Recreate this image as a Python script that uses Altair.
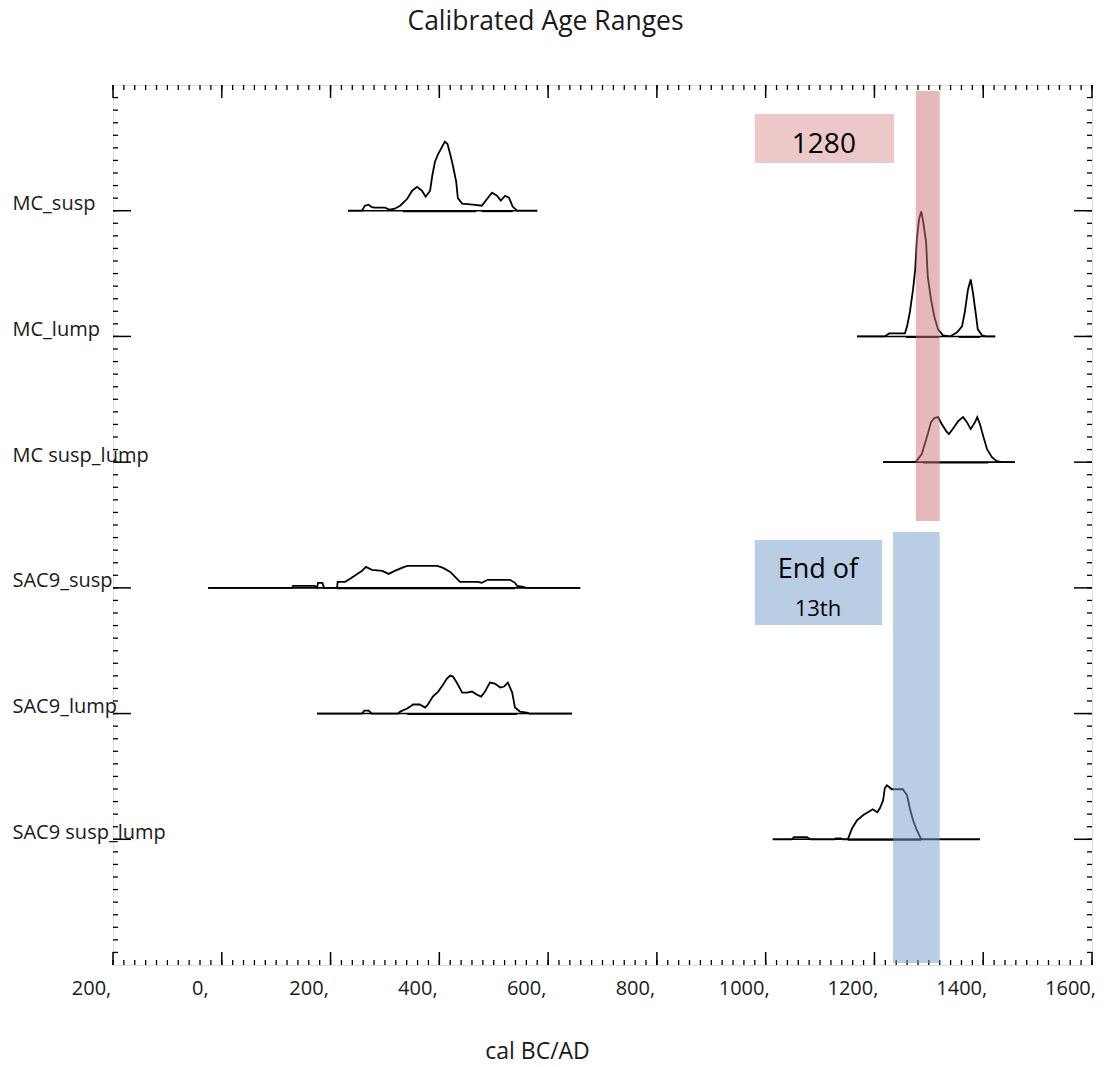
import altair as alt
import pandas as pd

SAMPLES = ["MC_susp", "MC_lump", "MC susp_lump", "SAC9_susp", "SAC9_lump", "SAC9 susp_lump"]
ROWS = [1, 2, 3, 4, 5, 6]

MC_SUSP_YEARS = [232, 258, 263, 270, 275, 280, 300, 309, 318, 328, 341, 350, 359, 368, 375, 383, 387, 392, 398, 404, 410, 415, 420, 425, 431, 434, 442, 462, 478, 488, 497, 506, 513, 521, 528, 535, 543, 580]
MC_SUSP_DENS = [0, 0, 0.04, 0.048, 0.03, 0.024, 0.024, 0.008, 0.016, 0.04, 0.095, 0.159, 0.19, 0.159, 0.111, 0.159, 0.278, 0.39, 0.453, 0.5, 0.549, 0.53, 0.45, 0.358, 0.231, 0.1, 0.056, 0.048, 0.04, 0.095, 0.143, 0.119, 0.08, 0.119, 0.103, 0.032, 0, 0]

MC_LUMP_YEARS = [1168, 1219, 1227, 1256, 1260, 1265, 1271, 1275, 1278, 1282, 1286, 1289, 1295, 1298, 1304, 1310, 1317, 1326, 1339, 1352, 1361, 1366, 1372, 1377, 1381, 1387, 1390, 1398, 1405, 1422]
MC_LUMP_DENS = [0, 0, 0.024, 0.024, 0.08, 0.19, 0.374, 0.533, 0.772, 0.93, 0.994, 0.93, 0.748, 0.477, 0.294, 0.159, 0.056, 0.008, 0, 0.032, 0.08, 0.19, 0.374, 0.453, 0.35, 0.159, 0.056, 0.008, 0, 0]

MC_SL_YEARS = [1216, 1276, 1287, 1297, 1304, 1310, 1317, 1324, 1332, 1337, 1344, 1354, 1363, 1370, 1377, 1385, 1389, 1394, 1400, 1407, 1416, 1425, 1435, 1458]
MC_SL_DENS = [0, 0, 0.064, 0.207, 0.318, 0.35, 0.358, 0.302, 0.247, 0.223, 0.263, 0.326, 0.358, 0.318, 0.263, 0.318, 0.358, 0.302, 0.207, 0.103, 0.04, 0.008, 0, 0]

SAC9_SUSP_YEARS = [-25, 129, 131, 171, 175, 177, 185, 188, 212, 213, 227, 236, 249, 258, 265, 276, 295, 307, 318, 331, 341, 396, 407, 420, 429, 438, 471, 478, 489, 530, 539, 543, 554, 560, 659]
SAC9_SUSP_DENS = [0, 0, 0.016, 0.016, 0, 0.04, 0.04, 0, 0, 0.048, 0.048, 0.072, 0.111, 0.135, 0.167, 0.143, 0.135, 0.111, 0.135, 0.159, 0.175, 0.175, 0.159, 0.127, 0.088, 0.048, 0.048, 0.04, 0.064, 0.064, 0.04, 0.016, 0.008, 0, 0]

SAC9_LUMP_YEARS = [175, 258, 262, 270, 276, 324, 328, 341, 352, 364, 374, 379, 388, 398, 407, 414, 420, 425, 432, 442, 451, 460, 469, 477, 484, 493, 502, 512, 519, 526, 534, 539, 548, 561, 566, 644]
SAC9_LUMP_DENS = [0, 0, 0.024, 0.024, 0, 0, 0.016, 0.04, 0.072, 0.072, 0.048, 0.072, 0.135, 0.175, 0.231, 0.278, 0.302, 0.294, 0.247, 0.167, 0.167, 0.175, 0.151, 0.135, 0.175, 0.247, 0.239, 0.207, 0.215, 0.247, 0.167, 0.048, 0.016, 0.008, 0, 0]

SAC9_SL_YEARS = [1013, 1048, 1052, 1076, 1082, 1127, 1129, 1138, 1142, 1151, 1159, 1168, 1179, 1188, 1197, 1205, 1210, 1216, 1219, 1223, 1232, 1252, 1260, 1265, 1271, 1278, 1286, 1394]
SAC9_SL_DENS = [0, 0, 0.016, 0.016, 0, 0, 0.008, 0.008, 0, 0, 0.088, 0.151, 0.191, 0.215, 0.239, 0.215, 0.247, 0.31, 0.406, 0.43, 0.398, 0.398, 0.35, 0.247, 0.151, 0.072, 0, 0]

CURVE_YEARS = [MC_SUSP_YEARS, MC_LUMP_YEARS, MC_SL_YEARS, SAC9_SUSP_YEARS, SAC9_LUMP_YEARS, SAC9_SL_YEARS]
CURVE_DENS = [MC_SUSP_DENS, MC_LUMP_DENS, MC_SL_DENS, SAC9_SUSP_DENS, SAC9_LUMP_DENS, SAC9_SL_DENS]

BASE_START = [232, 1168, 1216, -25, 175, 1013]
BASE_END = [580, 1422, 1458, 659, 644, 1394]

RANGE_ROW = [1, 1, 2, 2, 3, 4, 5, 6]
RANGE_FROM = [333, 478, 1258, 1355, 1289, 212, 341, 1151]
RANGE_TO = [467, 535, 1319, 1394, 1409, 539, 543, 1286]

X_TICKS = [-200, 0, 200, 400, 600, 800, 1000, 1200, 1400, 1600]
X_MINOR = list(range(-200, 1601, 20))
Y_MINOR = [k / 10 for k in range(1, 70)]

BAND_X1 = [1276, 1234]
BAND_X2 = [1320, 1320]
BAND_Y1 = [0.048, 3.556]
BAND_Y2 = [3.468, 6.984]
BAND_COLOR = ["#cb7371", "#739bcb"]

BOX_X1 = [980, 980]
BOX_X2 = [1236, 1214]
BOX_Y1 = [0.23, 3.62]
BOX_Y2 = [0.62, 4.296]
BOX_COLOR = ["#ecc9c8", "#b9cde5"]

NOTE_TEXT = ["1280", "End of", "13th"]
NOTE_X = [1107, 1096, 1096]
NOTE_Y = [0.477, 3.86, 4.17]
NOTE_SIZE = [28, 27, 22]

FONT = "Open Sans"
W, H = 979, 880

# ---- tables ----
rows = []
for s, r, ys, ds in zip(SAMPLES, ROWS, CURVE_YEARS, CURVE_DENS):
    for i, (yr, d) in enumerate(zip(ys, ds)):
        rows.append({"sample": s, "i": i, "year": yr, "y": r - d})
curves = pd.DataFrame(rows)
base = pd.DataFrame({"sample": SAMPLES, "row": ROWS, "x1": BASE_START, "x2": BASE_END})
ranges = pd.DataFrame({"row": RANGE_ROW, "x1": RANGE_FROM, "x2": RANGE_TO})
bands = pd.DataFrame({"x1": BAND_X1, "x2": BAND_X2, "y1": BAND_Y1, "y2": BAND_Y2, "c": BAND_COLOR})
boxes = pd.DataFrame({"x1": BOX_X1, "x2": BOX_X2, "y1": BOX_Y1, "y2": BOX_Y2, "c": BOX_COLOR})
notes = pd.DataFrame({"t": NOTE_TEXT, "x": NOTE_X, "y": NOTE_Y, "s": NOTE_SIZE})
xmaj = pd.DataFrame({"v": X_TICKS})
xmin = pd.DataFrame({"v": X_MINOR})
ymaj = pd.DataFrame({"v": ROWS})
ymin = pd.DataFrame({"v": Y_MINOR})

xs = alt.Scale(domain=[-200, 1600], nice=False, zero=False)
ys_ = alt.Scale(domain=[0, 7], reverse=True, nice=False, zero=False)

label_arr = "[''," + ",".join("'" + s + "'" for s in SAMPLES) + "]"

XAXIS = alt.Axis(values=X_TICKS, labelExpr="abs(datum.value) + ','", labelAlign="center",
                 labelOffset=-22, labelPadding=13, labelFontSize=20, labelFont=FONT,
                 labelColor="#1a1a1a", labelOverlap=False, labelFlush=False,
                 ticks=False, tickSize=0, domain=False, grid=False,
                 title="cal BC/AD", titleFont=FONT, titleFontSize=23, titleFontWeight="normal",
                 titleColor="#1a1a1a", titleX=424, titleY=86, titleAlign="center",
                 titleBaseline="middle", titleAnchor="start")
YAXIS = alt.Axis(values=ROWS, labelExpr=label_arr + "[datum.value]", labelAlign="left",
                 labelBaseline="alphabetic", labelPadding=101, labelOffset=-1,
                 labelFontSize=20, labelFont=FONT, labelColor="#1a1a1a", labelOverlap=False,
                 labelFlush=False, labelLimit=300,
                 ticks=False, tickSize=0, domain=False, grid=False, title=None)

X = lambda f: alt.X(f, type="quantitative", scale=xs, axis=XAXIS)
Y = lambda f: alt.Y(f, type="quantitative", scale=ys_, axis=YAXIS)

base_l = alt.Chart(base).mark_rule(color="#000", strokeWidth=1.6).encode(
    x=X("x1"), x2="x2", y=Y("row"))
range_l = alt.Chart(ranges).mark_rule(color="#000", strokeWidth=1.9, yOffset=0.5).encode(
    x=X("x1"), x2="x2", y=Y("row"))
curve_l = alt.Chart(curves).mark_line(color="#000", strokeWidth=1.8).encode(
    x=X("year"), y=Y("y"), detail="sample:N", order="i:Q")
band_l = alt.Chart(bands).mark_rect(opacity=0.5).encode(
    x=X("x1"), x2="x2", y=Y("y1"), y2="y2", color=alt.Color("c:N", scale=None))
box_l = alt.Chart(boxes).mark_rect().encode(
    x=X("x1"), x2="x2", y=Y("y1"), y2="y2", color=alt.Color("c:N", scale=None))
note_l = alt.Chart(notes).mark_text(font=FONT, color="#000", baseline="middle", align="center").encode(
    x=X("x"), y=Y("y"), text="t:N", size=alt.Size("s:Q", scale=None, legend=None))

# inward ticks
xmin_top = alt.Chart(xmin).mark_rule(color="#000", strokeWidth=1.3).encode(
    x=X("v"), y=alt.value(0), y2=alt.value(5))
xmin_bot = alt.Chart(xmin).mark_rule(color="#000", strokeWidth=1.3).encode(
    x=X("v"), y=alt.value(H), y2=alt.value(H - 5))
xmaj_top = alt.Chart(xmaj).mark_rule(color="#000", strokeWidth=1.5).encode(
    x=X("v"), y=alt.value(0), y2=alt.value(13))
xmaj_bot = alt.Chart(xmaj).mark_rule(color="#000", strokeWidth=1.5).encode(
    x=X("v"), y=alt.value(H), y2=alt.value(H - 13))
ymin_l = alt.Chart(ymin).mark_rule(color="#000", strokeWidth=1.3).encode(
    y=Y("v"), x=alt.value(0), x2=alt.value(5))
ymin_r = alt.Chart(ymin).mark_rule(color="#000", strokeWidth=1.3).encode(
    y=Y("v"), x=alt.value(W), x2=alt.value(W - 5))
ymaj_l = alt.Chart(ymaj).mark_rule(color="#000", strokeWidth=1.5).encode(
    y=Y("v"), x=alt.value(0), x2=alt.value(18))
ymaj_r = alt.Chart(ymaj).mark_rule(color="#000", strokeWidth=1.5).encode(
    y=Y("v"), x=alt.value(W), x2=alt.value(W - 18))

chart = alt.layer(
    xmin_top, xmin_bot, xmaj_top, xmaj_bot, ymin_l, ymin_r, ymaj_l, ymaj_r,
    base_l, range_l, curve_l, band_l, box_l, note_l
).properties(
    width=W, height=H,
    title=alt.TitleParams("Calibrated Age Ranges", font=FONT, fontSize=26.5, fontWeight="normal",
                          color="#1a1a1a", anchor="middle", dx=-57, offset=49),
    autosize=alt.AutoSizeParams(type="none"),
    padding={"left": 113, "top": 85, "right": 21, "bottom": 102},
).configure_view(stroke="#000", strokeWidth=1.6).configure(background="white")

chart.save("out.html", embed_options={"renderer": "svg", "actions": False})
